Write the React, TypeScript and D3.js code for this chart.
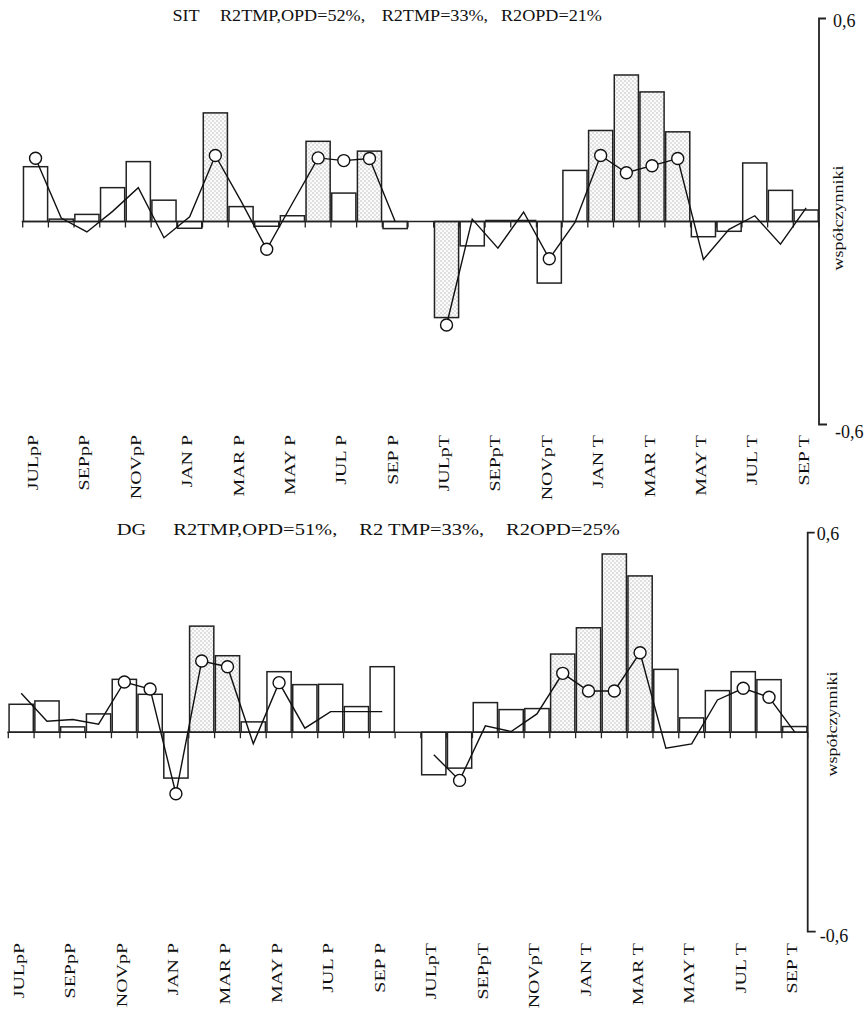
import React from "react";
import * as d3 from "d3";

// ---- data ----
const months: string[] = [
  "JULpP", "AUGpP", "SEPpP", "OCTpP", "NOVpP", "DECpP", "JAN P", "FEB P", "MAR P", "APR P", "MAY P", "JUN P", "JUL P", "AUG P", "SEP P",
  "JULpT", "AUGpT", "SEPpT", "OCTpT", "NOVpT", "DECpT", "JAN T", "FEB T", "MAR T", "APR T", "MAY T", "JUN T", "JUL T", "AUG T", "SEP T",
];
const tickLabels: string[] = [
  "JULpP", "SEPpP", "NOVpP", "JAN P", "MAR P", "MAY P", "JUL P", "SEP P",
  "JULpT", "SEPpT", "NOVpT", "JAN T", "MAR T", "MAY T", "JUL T", "SEP T",
];
const yTicks: number[] = [0.6, -0.6];
const yTickLabels: string[] = ["0,6", "-0,6"];

const sitTitle: string[] = ["SIT", "R2TMP,OPD=52%,", "R2TMP=33%,", "R2OPD=21%"];
const sitBars: number[] = [
  0.162, 0.007, 0.021, 0.100, 0.177, 0.063, -0.020, 0.321, 0.044, -0.014, 0.017, 0.237, 0.084, 0.208, -0.021,
  -0.284, -0.072, 0.003, 0.003, -0.182, 0.151, 0.269, 0.433, 0.383, 0.265, -0.045, -0.029, 0.173, 0.092, 0.034,
];
const sitBarSignif: number[] = [7, 11, 13, 15, 21, 22, 23, 24];
const sitLine: number[] = [
  0.187, 0.010, -0.031, 0.030, 0.100, -0.048, 0.014, 0.195, 0.060, -0.082, 0.054, 0.188, 0.180, 0.186, 0.0,
  -0.306, 0.007, -0.079, 0.028, -0.110, -0.003, 0.195, 0.144, 0.165, 0.186, -0.112, -0.023, 0.017, -0.067, 0.040,
];
const sitLineSignif: number[] = [0, 7, 9, 11, 12, 13, 15, 19, 21, 22, 23, 24];

const dgTitle: string[] = ["DG", "R2TMP,OPD=51%,", "R2 TMP=33%,", "R2OPD=25%"];
const dgBars: number[] = [
  0.084, 0.094, 0.016, 0.055, 0.159, 0.114, -0.138, 0.319, 0.230, 0.031, 0.182, 0.143, 0.144, 0.077, 0.197,
  -0.128, -0.108, 0.089, 0.068, 0.071, 0.235, 0.314, 0.536, 0.470, 0.189, 0.043, 0.125, 0.182, 0.158, 0.017,
];
const dgBarSignif: number[] = [7, 8, 20, 21, 22, 23];
const dgLine: number[] = [
  0.117, 0.033, 0.038, 0.024, 0.151, 0.130, -0.185, 0.214, 0.197, -0.035, 0.149, 0.012, 0.062, 0.062, 0.062,
  -0.068, -0.145, 0.019, 0.002, 0.055, 0.177, 0.124, 0.124, 0.239, -0.048, -0.035, 0.097, 0.132, 0.105, 0.0,
];
const dgLineSignif: number[] = [4, 5, 6, 7, 8, 10, 16, 20, 21, 22, 23, 27, 28];

const yAxisTitle = "współczynniki";

// ---- layout ----
const FONT = "'Liberation Serif', 'Times New Roman', serif";
const STRETCH = 1.33;

type Layout = {
  x0: number; x1: number; yTop: number; yBot: number;
  titleY: number; titleX: number[]; titleSize: number; titleScaleX: number; labelY: number;
  tickLabelDx: number[]; tickLabelDy: number[];
  axisTitleX: number; axisTitleY: number;
};

const topLayout: Layout = {
  x0: 22.7, x1: 819, yTop: 18.5, yBot: 424.5,
  titleY: 21, titleX: [172.5, 220, 381.7, 501], titleSize: 16.8, titleScaleX: 1.08, labelY: 435,
  tickLabelDx: [14, 16], tickLabelDy: [8.5, 13.5],
  axisTitleX: 843, axisTitleY: 218,
};
const bottomLayout: Layout = {
  x0: 8.3, x1: 807.7, yTop: 532.7, yBot: 931.7,
  titleY: 535, titleX: [116.7, 173.3, 359.3, 506], titleSize: 16.8, titleScaleX: 1.22, labelY: 943,
  tickLabelDx: [9, 12], tickLabelDy: [7.5, 10.5],
  axisTitleX: 837, axisTitleY: 724,
};

const slotOf = (i: number) => (i < 15 ? i : i + 1);

function Panel(props: {
  id: string; layout: Layout; title: string[]; bars: number[]; barSignif: number[];
  line: number[]; lineSignif: number[];
}) {
  const { id, layout: L, title, bars, barSignif, line, lineSignif } = props;
  const x = d3.scaleBand<number>().domain(d3.range(31)).range([L.x0, L.x1]).paddingInner(0.06).paddingOuter(0.03);
  const step = x.step();
  const y = d3.scaleLinear().domain([-0.6, 0.6]).range([L.yBot, L.yTop]);
  const y0 = y(0);
  const cx = (i: number) => (x(slotOf(i)) as number) + x.bandwidth() / 2;
  const boundaries = [...d3.range(0, 16), ...d3.range(16, 32)].map((k) => L.x0 + k * step);
  const half1 = d3.range(0, 15);
  const half2 = d3.range(15, 30);
  const lg = d3.line<number>().x((i) => cx(i)).y((i) => y(line[i]));
  const labelSlots = [...d3.range(0, 15, 2), ...d3.range(16, 31, 2)];

  return (
    <g>
      {title.map((t, k) => (
        <text
          key={k}
          transform={`translate(${L.titleX[k]},${L.titleY}) scale(${L.titleScaleX},1)`}
          fontSize={L.titleSize}
          fontFamily={FONT}
          fill="#111"
        >
          {t}
        </text>
      ))}
      {bars.map((v, i) => {
        const sig = barSignif.includes(i);
        const yt = y(Math.max(0, v));
        const h = Math.abs(y(v) - y0);
        return (
          <rect
            key={i}
            x={x(slotOf(i))}
            y={yt}
            width={x.bandwidth()}
            height={Math.max(h, 0.5)}
            fill={sig ? `url(#stip-${id})` : "#fff"}
            stroke="#222"
            strokeWidth={1.5}
          />
        );
      })}
      <line x1={L.x0 - 1} x2={L.x1} y1={y0} y2={y0} stroke="#222" strokeWidth={1.5} />
      {boundaries.map((bx, k) => (
        <line key={k} x1={bx} x2={bx} y1={y0} y2={y0 + 6} stroke="#222" strokeWidth={1.3} />
      ))}
      <path d={lg(half1) || ""} fill="none" stroke="#111" strokeWidth={1.4} />
      <path d={lg(half2) || ""} fill="none" stroke="#111" strokeWidth={1.4} />
      {lineSignif.map((i) => (
        <circle key={i} cx={cx(i)} cy={y(line[i])} r={6} fill="#fff" stroke="#111" strokeWidth={1.4} />
      ))}
      {/* right axis */}
      <path
        d={`M${L.x1 + 7},${y(0.6)}H${L.x1}V${y(-0.6)}H${L.x1 + 8}`}
        fill="none"
        stroke="#222"
        strokeWidth={1.8}
      />
      {yTicks.map((t, k) => (
        <text
          key={k}
          x={L.x1 + L.tickLabelDx[k]}
          y={y(t) + L.tickLabelDy[k]}
          fontSize={18}
          fontFamily={FONT}
          fill="#111"
        >
          {yTickLabels[k]}
        </text>
      ))}
      <text
        transform={`translate(${L.axisTitleX},${L.axisTitleY}) rotate(-90) scale(1.2,1)`}
        textAnchor="middle"
        fontSize={15}
        fontFamily={FONT}
        fill="#111"
      >
        {yAxisTitle}
      </text>
      {labelSlots.map((s, k) => {
        const bx = (x(s) as number) + x.bandwidth() / 2 + 2.5;
        return (
          <text
            key={k}
            transform={`translate(${bx},${L.labelY}) rotate(-90) scale(${STRETCH},1)`}
            textAnchor="end"
            fontSize={15}
            fontFamily={FONT}
            fill="#111"
          >
            {tickLabels[k]}
          </text>
        );
      })}
    </g>
  );
}

export default function App() {
  void months;
  return (
    <svg
      width={866}
      height={1014}
      viewBox="0 0 866 1014"
      style={{ position: "absolute", left: 0, top: 0, background: "#fff" }}
    >
      <defs>
        {["top", "bot"].map((id) => (
          <pattern key={id} id={`stip-${id}`} width={4} height={4} patternUnits="userSpaceOnUse">
            <rect width={4} height={4} fill="#fbfbfb" />
            <rect x={0.5} y={0.5} width={1} height={1} fill="#8a8a8a" />
            <rect x={2.5} y={2.5} width={1} height={1} fill="#9a9a9a" />
          </pattern>
        ))}
      </defs>
      <rect width={866} height={1014} fill="#fff" />
      <Panel id="top" layout={topLayout} title={sitTitle} bars={sitBars} barSignif={sitBarSignif} line={sitLine} lineSignif={sitLineSignif} />
      <Panel id="bot" layout={bottomLayout} title={dgTitle} bars={dgBars} barSignif={dgBarSignif} line={dgLine} lineSignif={dgLineSignif} />
    </svg>
  );
}
